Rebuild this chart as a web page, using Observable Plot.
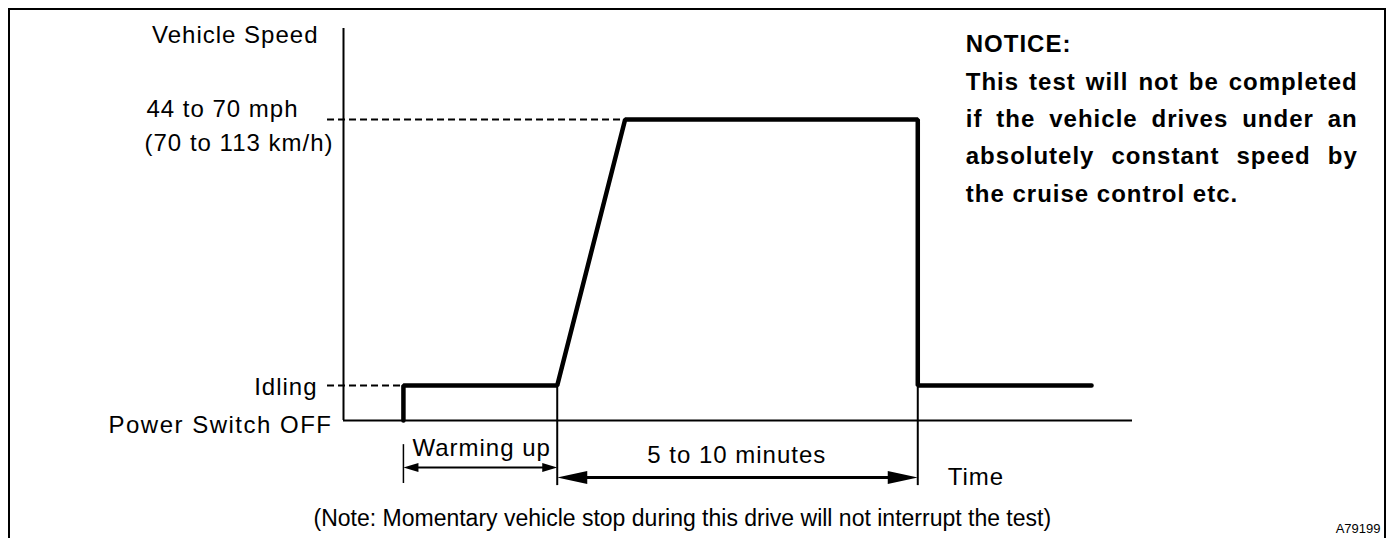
<!DOCTYPE html>
<html><head><meta charset="utf-8">
<script src="https://cdn.jsdelivr.net/npm/d3@7"></script>
<script src="https://cdn.jsdelivr.net/npm/@observablehq/plot@0.6"></script>
<style>
body{margin:0;background:#fff;}
#wrap{position:relative;width:1390px;height:538px;overflow:hidden;background:#fff;}
#frame{position:absolute;left:8px;top:8px;width:1378px;height:560px;border:2px solid #000;border-bottom:none;box-sizing:border-box;pointer-events:none;}
#wrap svg{position:absolute;left:0;top:0;overflow:visible;}
#wrap svg text{letter-spacing:1px;}
</style></head><body><div id="wrap"><div id="frame"></div></div>
<script>
// ---- data (abstract units) ----
// speed levels: Power Switch OFF, Idling, 44 to 70 mph
const levels = [0, 1, 8.6];
const axisTop = 11.2;
// time marks
const timeEnd = 79;
const powerOn = 6;
const warmEnd = 21.4;
const reachSpeed = 28.2;
const driveEnd = 57.5;
const stopEnd = 74.9;
const refStart = -1.6;
// speed profile
const profileT = [powerOn, powerOn, warmEnd, reachSpeed, driveEnd, driveEnd, stopEnd];
const profileV = [levels[0], levels[1], levels[1], levels[2], levels[2], levels[1], levels[1]];
// dimension lines (below time axis)
const dimWarmY = -1.34;
const dimDriveY = -1.63;
const dimTickTop = -0.69;
const dimBottom = -1.86;
// texts
const axisTitle = "Vehicle Speed";
const speedLabel = ["44 to 70 mph", "(70 to 113 km/h)"];
const idleLabel = "Idling";
const offLabel = "Power Switch OFF";
const warmLabel = "Warming up";
const driveLabel = "5 to 10 minutes";
const timeLabel = "Time";
const noteLabel = "(Note: Momentary vehicle stop during this drive will not interrupt the test)";
const figId = "A79199";
const noticeLines = [
  "NOTICE:",
  "This test will not be completed",
  "if the vehicle drives under an",
  "absolutely constant speed by",
  "the cruise control etc."
];

const profile = profileT.map((t, i) => ({t, v: profileV[i]}));

function head(L, W, dir) {
  return {draw(ctx) {
    ctx.moveTo(0, 0);
    ctx.lineTo(-dir * L, -W);
    ctx.lineTo(-dir * L, W);
    ctx.closePath();
  }};
}
const smallL = head(15, 4.5, -1), smallR = head(15, 4.5, 1);
const bigL = head(30, 6.5, -1), bigR = head(30, 6.5, 1);

const font = "'Liberation Sans', Arial, Helvetica, sans-serif";

const chart = Plot.plot({
  width: 1390,
  height: 538,
  marginLeft: 343,
  marginRight: 258,
  marginTop: 28,
  marginBottom: 118,
  x: {domain: [0, timeEnd], axis: null},
  y: {domain: [0, axisTop], axis: null},
  style: {fontFamily: font, fontSize: "24px", background: "transparent", overflow: "visible"},
  marks: [
    // axes
    Plot.ruleX([0], {y1: levels[0], y2: axisTop, stroke: "black", strokeWidth: 2}),
    Plot.ruleY([levels[0]], {x1: 0, x2: timeEnd, stroke: "black", strokeWidth: 2}),
    // dashed reference lines
    Plot.ruleY([levels[2]], {x1: refStart, x2: reachSpeed, stroke: "black", strokeWidth: 2, strokeDasharray: "7,4"}),
    Plot.ruleY([levels[1]], {x1: refStart, x2: powerOn, stroke: "black", strokeWidth: 2, strokeDasharray: "7,4"}),
    // thin vertical guides
    Plot.ruleX([warmEnd, driveEnd], {y1: levels[1], y2: dimBottom, stroke: "black", strokeWidth: 2}),
    Plot.ruleX([powerOn], {y1: dimTickTop, y2: dimBottom + 0.06, stroke: "black", strokeWidth: 1.5}),
    // speed profile
    Plot.line(profile, {x: "t", y: "v", stroke: "black", strokeWidth: 4.5, strokeLinejoin: "miter", strokeLinecap: "round"}),
    // dimension arrows
    Plot.ruleY([dimWarmY], {x1: powerOn + 1, x2: warmEnd - 1, stroke: "black", strokeWidth: 2}),
    Plot.ruleY([dimDriveY], {x1: warmEnd + 2, x2: driveEnd - 2, stroke: "black", strokeWidth: 3}),
    Plot.dot([powerOn], {x: d => d, y: dimWarmY, symbol: smallL, fill: "black", stroke: "none"}),
    Plot.dot([warmEnd], {x: d => d, y: dimWarmY, symbol: smallR, fill: "black", stroke: "none"}),
    Plot.dot([warmEnd], {x: d => d, y: dimDriveY, symbol: bigL, fill: "black", stroke: "none"}),
    Plot.dot([driveEnd], {x: d => d, y: dimDriveY, symbol: bigR, fill: "black", stroke: "none"}),
    // labels on the speed axis
    Plot.text([axisTitle], {x: 0, y: axisTop, text: d => d, textAnchor: "end", lineAnchor: "bottom", dx: -25, dy: 14, fontSize: 24}),
    Plot.text([speedLabel[0]], {x: 0, y: levels[2], text: d => d, textAnchor: "end", lineAnchor: "bottom", dx: -45, dy: -3, fontSize: 24}),
    Plot.text([speedLabel[1]], {x: 0, y: levels[2], text: d => d, textAnchor: "end", lineAnchor: "bottom", dx: -10, dy: 31, fontSize: 24}),
    Plot.text([idleLabel], {x: 0, y: levels[1], text: d => d, textAnchor: "end", lineAnchor: "bottom", dx: -26, dy: 9, fontSize: 24}),
    Plot.text([offLabel], {x: 0, y: levels[0], text: d => d, textAnchor: "end", lineAnchor: "bottom", dx: -11, dy: 12, fontSize: 24, letterSpacing: 1}),
    // labels on the time axis
    Plot.text([warmLabel], {x: powerOn, y: levels[0], text: d => d, textAnchor: "start", lineAnchor: "bottom", dx: 9, dy: 35, fontSize: 24}),
    Plot.text([driveLabel], {x: warmEnd, y: levels[0], text: d => d, textAnchor: "start", lineAnchor: "bottom", dx: 90, dy: 42, fontSize: 24}),
    Plot.text([timeLabel], {x: driveEnd, y: levels[0], text: d => d, textAnchor: "start", lineAnchor: "bottom", dx: 30, dy: 64, fontSize: 24}),
    Plot.text([noteLabel], {x: 0, y: levels[0], text: d => d, textAnchor: "start", lineAnchor: "bottom", dx: -30, dy: 105, fontSize: 23}),
    Plot.text([figId], {x: timeEnd, y: levels[0], text: d => d, textAnchor: "end", lineAnchor: "bottom", dx: 248, dy: 112, fontSize: 13}),
    // notice
    Plot.text([noticeLines.join("\n")], {x: driveEnd, y: axisTop, text: d => d, textAnchor: "start", lineAnchor: "top", lineHeight: 1.554, dx: 48, dy: -2.5, fontSize: 24, fontWeight: "bold"})
  ]
});

document.getElementById("wrap").insertBefore(chart, document.getElementById("frame"));

// note line uses natural spacing; "Power Switch OFF" a little wider
chart.querySelectorAll("text").forEach(t => {
  if (t.textContent === noteLabel || t.textContent === figId) t.style.letterSpacing = "0px";
  if (t.textContent === offLabel) t.style.letterSpacing = "1.5px";
});

// justify the middle lines of the notice to a common right edge
const tspans = Array.from(chart.querySelectorAll("tspan"));
const justified = noticeLines.slice(1, 4);
const target = 392;
tspans.forEach(ts => {
  if (justified.includes(ts.textContent)) {
    const len = ts.getComputedTextLength();
    const spaces = (ts.textContent.match(/ /g) || []).length;
    if (spaces > 0 && len < target) ts.style.wordSpacing = ((target - len) / spaces) + "px";
  }
});
</script>
</body></html>
